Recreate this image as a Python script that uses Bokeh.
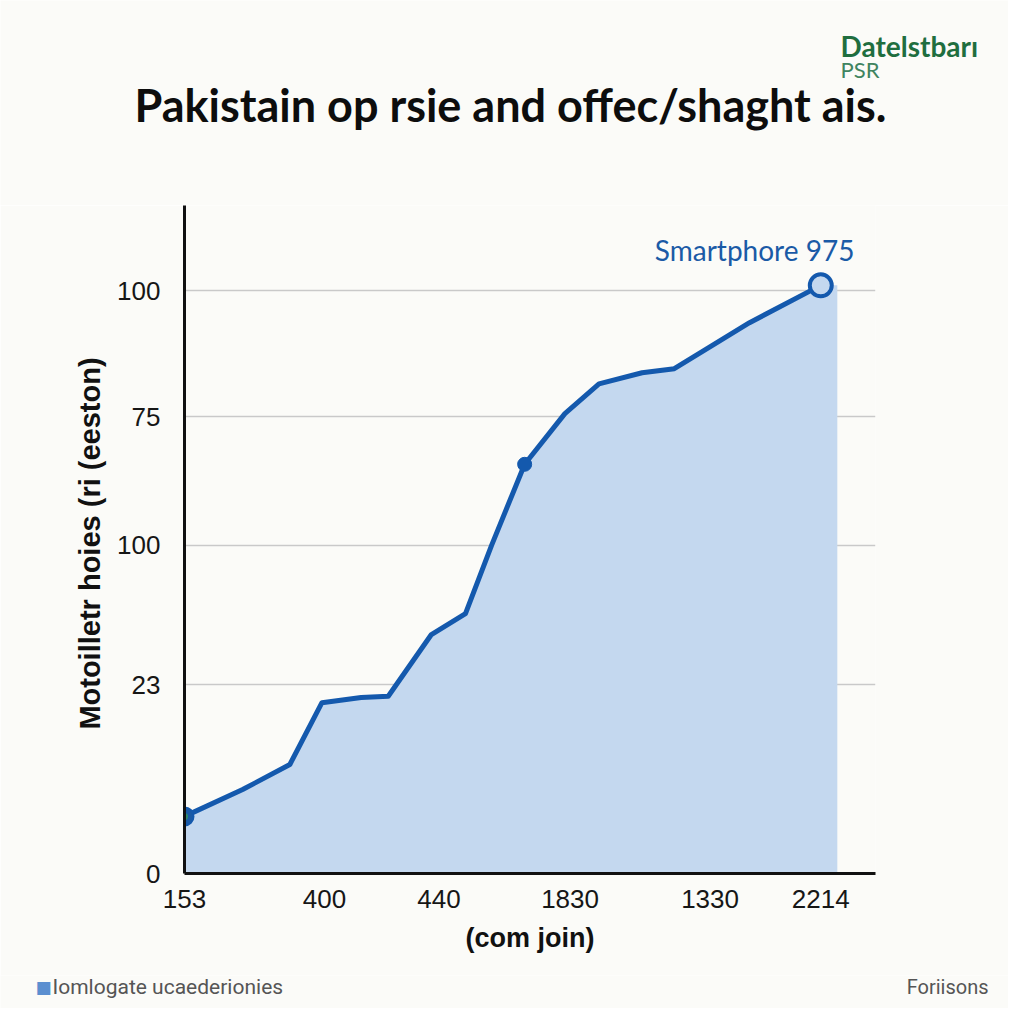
from bokeh.plotting import figure
from bokeh.models import FixedTicker, Range1d
from bokeh.layouts import column
from bokeh.core.properties import value
from bokeh.embed import file_html
from bokeh.resources import INLINE

# ---- data ----
x_tick_pos = [0.0, 1.10, 2.0, 3.03, 4.13, 5.0]
x_tick_labels = ["153", "400", "440", "1830", "1330", "2214"]
y_tick_pos = [0, 32.4, 56.3, 78.4, 100]
y_tick_labels = ["0", "23", "100", "75", "100"]

xs = [0.0, 0.457, 0.828, 1.080, 1.388, 1.601, 1.940, 2.208, 2.413, 2.673,
      2.989, 3.257, 3.596, 3.849, 4.148, 4.440, 5.0]
ys = [9.8, 14.4, 18.7, 29.3, 30.2, 30.4, 41.0, 44.6, 56.3, 70.2,
      78.9, 84.0, 85.9, 86.6, 90.6, 94.5, 100.9]

title_text = "Pakistain op rsie and offec/shaght ais."
brand_text = "Datelstbarı"
brand_sub = "PSR"
annot_text = "Smartphore 975"
x_label = "(com join)"
y_label = "Motoilletr hoies  (ri (eeston)"
footer_left = "Iomlogate ucaederionies"
footer_right = "Foriisons"

BG = "#fbfbf8"
LINE = "#1459ad"
FILL = "#c4d8ef"
W = 1008
HEAD_H = 205
MAIN_H = 770
FOOT_H = 33


def blank(height):
    f = figure(width=W, height=height, output_backend="svg", toolbar_location=None,
               x_range=Range1d(0, W), y_range=Range1d(height, 0),
               x_axis_type=None, y_axis_type=None, min_border=0, frame_align=False)
    f.background_fill_color = BG
    f.border_fill_color = BG
    f.outline_line_color = None
    f.xgrid.visible = False
    f.ygrid.visible = False
    return f


# ---- header ----
head = blank(HEAD_H)
head.text(x=[510], y=[104], text=[title_text], text_align="center", text_baseline="middle",
          text_font=value("Lato"), text_font_style="bold", text_font_size="45px",
          text_color="#0d0d0d")
head.text(x=[840], y=[45], text=[brand_text], text_align="left", text_baseline="middle",
          text_font=value("Lato"), text_font_style="bold", text_font_size="28px",
          text_color="#1f6e3f")
head.text(x=[840], y=[69], text=[brand_sub], text_align="left", text_baseline="middle",
          text_font=value("Lato"), text_font_size="22px", text_color="#3f8460")

# ---- main chart ----
p = figure(width=W, height=MAIN_H, output_backend="svg", toolbar_location=None,
           x_range=Range1d(0, 5.43), y_range=Range1d(0, 114.6), frame_align=False)
p.min_border_left = 184
p.min_border_right = W - 875
p.min_border_top = 0
p.min_border_bottom = MAIN_H - (873 - HEAD_H)
p.background_fill_color = BG
p.border_fill_color = BG
p.outline_line_color = None

p.xgrid.grid_line_color = None
p.ygrid.ticker = FixedTicker(ticks=y_tick_pos[1:])
p.ygrid.grid_line_color = "#c9c9c9"
p.ygrid.grid_line_width = 1.5

p.xaxis.ticker = FixedTicker(ticks=x_tick_pos)
p.xaxis.major_label_overrides = {t: l for t, l in zip(x_tick_pos, x_tick_labels)}
p.yaxis.ticker = FixedTicker(ticks=y_tick_pos)
p.yaxis.major_label_overrides = {t: l for t, l in zip(y_tick_pos, y_tick_labels)}
for ax in (p.xaxis, p.yaxis):
    ax.axis_line_color = "#111111"
    ax.axis_line_width = 3
    ax.major_tick_line_color = None
    ax.minor_tick_line_color = None
    ax.major_label_text_color = "#161616"
    ax.major_label_text_font = "Liberation Sans"
    ax.major_label_text_font_size = "26px"
    ax.axis_label_text_color = "#111111"
    ax.axis_label_text_font = "Liberation Sans"
    ax.axis_label_text_font_style = "bold"

p.xaxis.major_label_standoff = 10
p.xaxis.axis_label = x_label
p.xaxis.axis_label_text_font_size = "27px"
p.xaxis.axis_label_standoff = 12

p.yaxis.major_label_standoff = 18
p.yaxis.axis_label = y_label
p.yaxis.axis_label_text_font_size = "29px"
p.yaxis.axis_label_standoff = 8

pad = 0.13
p.varea(x=xs + [xs[-1] + pad], y1=0, y2=ys + [ys[-1]], fill_color=FILL, fill_alpha=1.0)
p.line(xs, ys, line_color=LINE, line_width=5, line_join="round")

p.scatter([xs[0]], [ys[0]], size=18, fill_color="#1a5aa6", line_color=LINE, line_width=2)
p.scatter([xs[0]], [ys[0]], size=7, fill_color="#2e8a6a", line_color=None)
p.scatter([xs[9]], [ys[9]], size=14, fill_color=LINE, line_color=LINE)
p.scatter([xs[-1]], [ys[-1]], size=22, fill_color=FILL, line_color=LINE, line_width=4)

p.text(x=[4.48], y=[107.0], text=[annot_text], text_align="center", text_baseline="middle",
       text_font=value("Lato"), text_font_size="28px", text_color="#1a5aa6")

# ---- footer ----
foot = blank(FOOT_H)
foot.text(x=[43], y=[11], text=["■"], text_align="center", text_baseline="middle",
          text_font=value("DejaVu Sans"), text_font_size="17px", text_color="#5b8fd0")
foot.text(x=[52], y=[11], text=[footer_left], text_align="left", text_baseline="middle",
          text_font=value("Roboto"), text_font_size="21px", text_color="#555555")
foot.text(x=[988], y=[11], text=[footer_right], text_align="right", text_baseline="middle",
          text_font=value("Roboto"), text_font_size="20px", text_color="#555555")

layout = column(head, p, foot, spacing=0)
open("out.html", "w").write(file_html(layout, INLINE))
